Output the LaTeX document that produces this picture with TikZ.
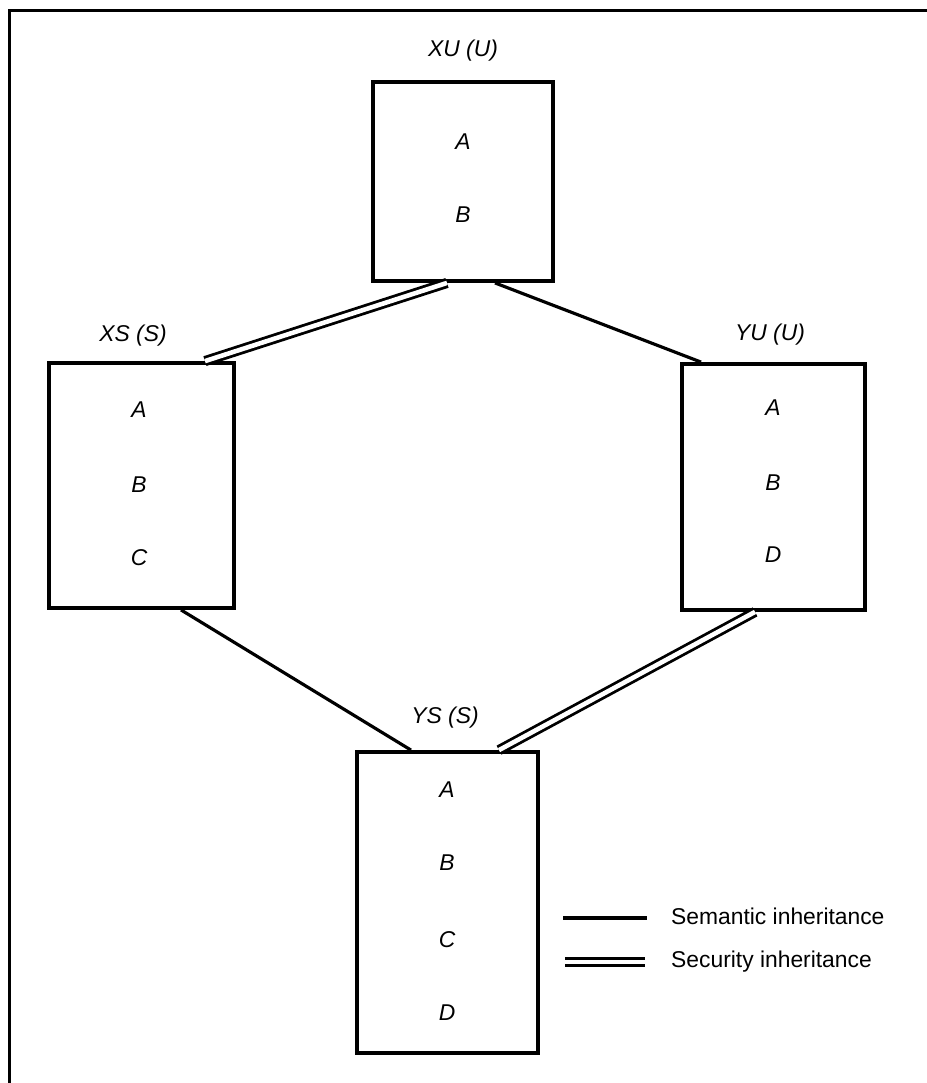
\documentclass[tikz,border=0pt]{standalone}
\usepackage{fontspec}
\setmainfont{Liberation Sans}
\begin{document}
\begin{tikzpicture}[x=0.02cm,y=-0.02cm,
  box/.style={draw,line width=2.2pt,inner sep=0pt},
  it/.style={font=\fontsize{13}{15}\selectfont\itshape},
  sem/.style={line width=1.8pt},
  sec/.style={double,double distance=2.6pt,line width=1.6pt}]
  \useasboundingbox (0,0) rectangle (927,1083);
  \draw[line width=2pt](927,10.5)--(9.5,10.5)--(9.5,1083);
  % the four classes
  \node[box,minimum width=3.6cm,minimum height=3.98cm](xu) at (463,181.5){};
  \node[box,minimum width=3.7cm,minimum height=4.9cm](xs) at (141.5,485.5){};
  \node[box,minimum width=3.66cm,minimum height=4.92cm](yu) at (773.5,487){};
  \node[box,minimum width=3.62cm,minimum height=6.02cm](ys) at (447.5,902.5){};
  \node[it](xulbl) at (463,51){XU (U)};
  \node[it](xslbl) at (133,336){XS (S)};
  \node[it](yulbl) at (770,335){YU (U)};
  \node[it](yslbl) at (445,718){YS (S)};
  \foreach \t/\y in {A/142,B/215}
    \node[it] at (463,\y){\t};
  \foreach \t/\y in {A/410,B/485,C/558}
    \node[it] at (139,\y){\t};
  \foreach \t/\y in {A/408,B/483,D/555}
    \node[it] at (773,\y){\t};
  \foreach \t/\y in {A/790,B/863,C/940,D/1013}
    \node[it] at (447,\y){\t};
  % inheritance links
  \draw[sec]([xshift=-0.32cm]xu.south)--([xshift=1.27cm]xs.north);
  \draw[sem]([xshift=0.64cm]xu.south)--([xshift=-1.45cm]yu.north);
  \draw[sem]([xshift=0.79cm]xs.south)--([xshift=-0.73cm]ys.north);
  \draw[sec]([xshift=-0.37cm]yu.south)--([xshift=1.03cm]ys.north);
  % legend
  \coordinate(sema) at (563,918); \coordinate(semb) at (647,918);
  \coordinate(seca) at (565,962); \coordinate(secb) at (645,962);
  \draw[sem](sema)--(semb);
  \draw[sec](seca)--(secb);
  \node[right,font=\fontsize{13}{15}\selectfont](semtxt) at (665,916){Semantic inheritance};
  \node[right,font=\fontsize{13}{15}\selectfont](sectxt) at (665,962){Security inheritance};
\end{tikzpicture}
\end{document}
